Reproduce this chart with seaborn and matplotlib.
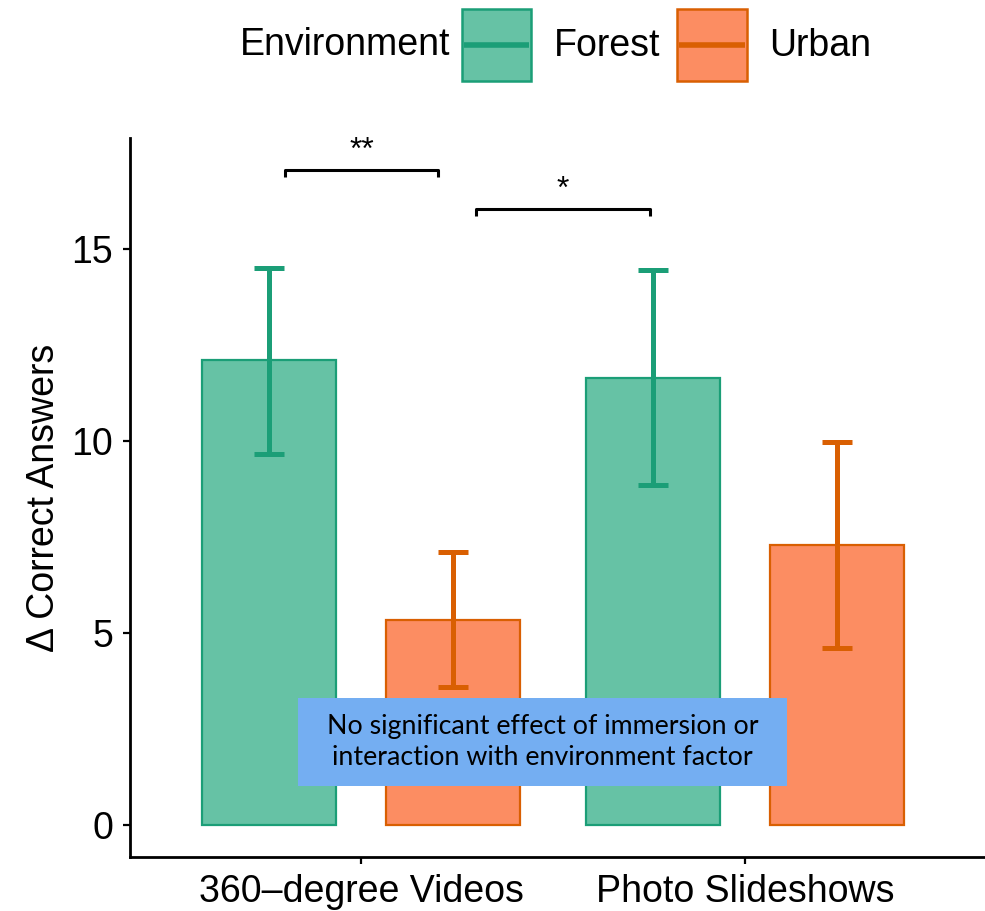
import matplotlib
matplotlib.use("Agg")
import matplotlib.pyplot as plt
import seaborn as sns
import pandas as pd
from matplotlib.patches import Rectangle
from matplotlib.lines import Line2D

# ---- data ----
immersion = ["360\u2013degree Videos", "360\u2013degree Videos", "Photo Slideshows", "Photo Slideshows"]
environment = ["Forest", "Urban", "Forest", "Urban"]
means = [12.1, 5.35, 11.65, 7.3]
err_low = [9.65, 3.6, 8.85, 4.6]
err_high = [14.5, 7.1, 14.45, 9.98]
env_levels = ["Forest", "Urban"]
fill_colors = ["#66c2a5", "#fc8d62"]
edge_colors = ["#1b9e77", "#d95f02"]
yticks = [0, 5, 10, 15]
note_text = "No significant effect of immersion or\ninteraction with environment factor"
sig_labels = ["**", "*"]

df = pd.DataFrame({"Immersion": immersion, "Environment": environment,
                   "Value": means, "Low": err_low, "High": err_high})

sns.set_theme(style="white")
plt.rcParams["font.family"] = ["Liberation Sans", "DejaVu Sans"]
plt.rcParams["text.color"] = "black"
plt.rcParams["axes.labelcolor"] = "black"


class LegendKey:
    def __init__(self, fc, ec):
        self.fc = fc
        self.ec = ec


class BoxLineHandler:
    def legend_artist(self, legend, orig_handle, fontsize, handlebox):
        x0, y0 = handlebox.xdescent, handlebox.ydescent
        w, h = handlebox.width, handlebox.height
        tr = handlebox.get_transform()
        rect = Rectangle((-x0, -y0), w, h, facecolor=orig_handle.fc,
                         edgecolor=orig_handle.ec, lw=1.8, transform=tr)
        line = Line2D([-x0 + 1.5, -x0 + w - 1.5], [-y0 + h / 2] * 2,
                      color=orig_handle.ec, lw=4, solid_capstyle="butt",
                      transform=tr)
        handlebox.add_artist(rect)
        handlebox.add_artist(line)
        return rect


fig = plt.figure(figsize=(9.85, 9.11), dpi=100)
ax = fig.add_axes([130/985, 1-857/911, 1-130/985, (857-138)/911])

sns.barplot(data=df, x="Immersion", y="Value", hue="Environment",
            hue_order=env_levels, palette=fill_colors, saturation=1,
            width=0.96, gap=0.27, errorbar=None, linewidth=1.6, legend=False,
            ax=ax, zorder=2)

for cont, ec, lvl in zip(ax.containers, edge_colors, env_levels):
    sub = df[df["Environment"] == lvl]
    xs = []
    for bar in cont:
        bar.set_edgecolor(ec)
        xs.append(bar.get_x() + bar.get_width() / 2)
    m = sub["Value"].to_numpy()
    lo = m - sub["Low"].to_numpy()
    hi = sub["High"].to_numpy() - m
    ax.errorbar(xs, m, yerr=[lo, hi], fmt="none", ecolor=ec, elinewidth=3.6,
                capsize=11, capthick=3.6, zorder=3)

ax.set_xlim(-0.6016, 1.625)
ax.set_ylim(-0.833, 17.89)
ax.set_yticks(yticks)
ax.set_xlabel("")
ax.set_ylabel("\u0394 Correct Answers", fontsize=27, labelpad=7)
ax.tick_params(axis="both", labelsize=27, length=5, width=1.6, color="black",
               labelcolor="black", left=True, bottom=True, pad=7)
sns.despine(ax=ax)
for s in ["left", "bottom"]:
    ax.spines[s].set_color("black")
    ax.spines[s].set_linewidth(2.0)

# significance brackets
brackets = [(-0.198, 0.2005, 17.06), (0.30, 0.7526, 16.04)]
for (x0, x1, y), lab in zip(brackets, sig_labels):
    ax.plot([x0, x0, x1, x1], [y - 0.18, y, y, y - 0.18], color="black", lw=2.2,
            solid_capstyle="butt", zorder=4)
    ax.text((x0 + x1) / 2, y + 0.28, lab, ha="center", va="baseline", fontsize=23,
            color="black")

# note box
bx0, bx1, by0, by1 = -0.164, 1.109, 1.016, 3.307
ax.add_patch(Rectangle((bx0, by0), bx1 - bx0, by1 - by0, facecolor="#74aef2",
                       edgecolor="none", zorder=5))
ax.text((bx0 + bx1) / 2, (by0 + by1) / 2, note_text, ha="center", va="center",
        fontsize=19.3, family=["Lato", "DejaVu Sans"], color="black",
        linespacing=1.32, zorder=6)

# legend
handles = [LegendKey(fc, ec) for fc, ec in zip(fill_colors, edge_colors)]
leg = fig.legend(handles, env_levels, loc="center left",
                 bbox_to_anchor=(462/985, 1-45/911), ncol=2, frameon=False,
                 fontsize=27, handlelength=1.85, handleheight=2.55,
                 handletextpad=0.6, columnspacing=0.45, borderpad=0,
                 borderaxespad=0, handler_map={LegendKey: BoxLineHandler()})
fig.text(240/985, 1-45/911, "Environment", ha="left", va="center", fontsize=27,
         color="black")

fig.savefig("out.png", dpi=100, facecolor="white")
